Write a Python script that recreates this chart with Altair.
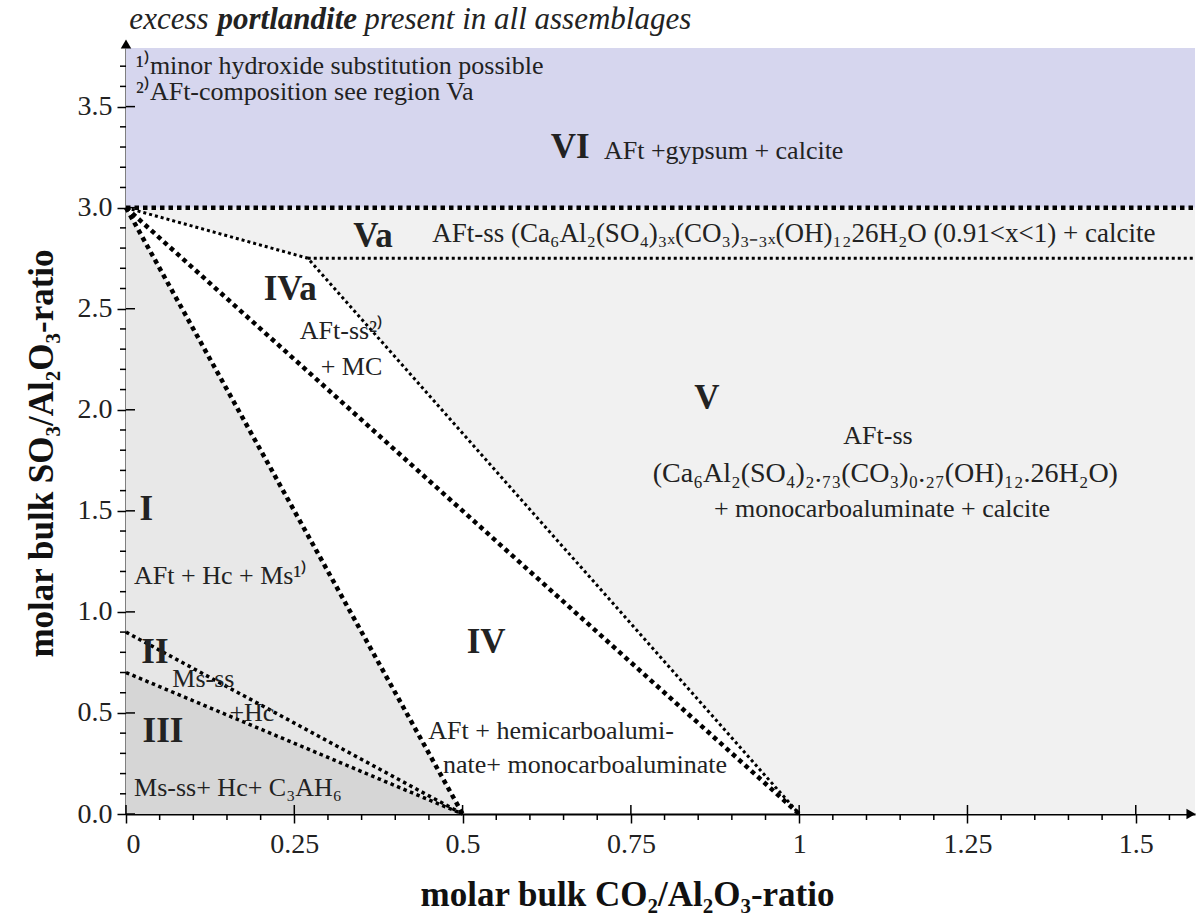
import altair as alt
import pandas as pd

FONT = "Liberation Serif"
XMAX = 1.588
YMAX = 3.79
W, H = 1069, 766

# ---------------- data ----------------
thick_lines = {
    "I-IV": ([0, 0.5], [3.0, 0.0]),
    "IV-IVa": ([0, 1.0], [3.0, 0.0]),
    "VI-Va": ([0, XMAX], [3.0, 3.0]),
}
thin_lines = {
    "IVa-V": ([0, 0.27, 1.0], [3.0, 2.75, 0.0]),
    "Va-V": ([0.27, XMAX], [2.75, 2.75]),
}
mid_lines = {
    "I-II": ([0, 0.5], [0.9, 0.0]),
    "II-III": ([0, 0.5], [0.7, 0.0]),
}

regions = {
    "VI": ([0, XMAX], [YMAX, YMAX], [3.0, 3.0]),
    "V": ([0, 0.27, 1.0, XMAX], [3.0, 3.0, 3.0, 3.0], [3.0, 2.75, 0.0, 0.0]),
    "I": ([0, 0.5], [3.0, 0.0], [0.9, 0.0]),
    "II": ([0, 0.5], [0.9, 0.0], [0.7, 0.0]),
    "III": ([0, 0.5], [0.7, 0.0], [0.0, 0.0]),
}
region_names = ["VI", "V", "I", "II", "III"]
region_colors = ["#d6d6ee", "#f1f1f1", "#e8e8e8", "#e6e6e6", "#d6d6d6"]

num_text = ["VI", "Va", "IVa", "V", "I", "II", "III", "IV"]
num_x = [0.66, 0.367, 0.244, 0.863, 0.03, 0.043, 0.055, 0.535]
num_y = [3.30, 2.86, 2.60, 2.06, 1.51, 0.80, 0.41, 0.85]

ann_text = [
    "AFt +gypsum + calcite",
    "¹⁾minor hydroxide substitution possible",
    "²⁾AFt-composition see region Va",
    "AFt + Hc + Ms¹⁾",
    "Ms-ss+ Hc+ C₃AH₆",
    "AFt + hemicarboalumi-",
    "nate+ monocarboaluminate",
]
ann_x = [0.71, 0.015, 0.015, 0.012, 0.012, 0.449, 0.471]
ann_y = [3.28, 3.70, 3.57, 1.18, 0.13, 0.41, 0.24]

va_text = ["AFt-ss (Ca₆Al₂(SO₄)₃ₓ(CO₃)₃₋₃ₓ(OH)₁₂26H₂O (0.91<x<1) + calcite"]
va_x = [0.455]
va_y = [2.87]

cen_text = [
    "AFt-ss²⁾",
    "+ MC",
    "Ms-ss",
    "+Hc",
    "AFt-ss",
    "+ monocarboaluminate + calcite",
]
cen_x = [0.32, 0.335, 0.115, 0.187, 1.117, 1.123]
cen_y = [2.39, 2.21, 0.67, 0.50, 1.87, 1.51]

formula_text = ["(Ca₆Al₂(SO₄)₂.₇₃(CO₃)₀.₂₇(OH)₁₂.26H₂O)"]
formula_x = [1.128]
formula_y = [1.68]

title_text = ["excess", "portlandite", "present in all assemblages"]
title_x = [0.005, 0.136, 0.354]
title_y = [3.93, 3.93, 3.93]
title_weight = ["normal", "bold", "normal"]

x_major = [0, 0.25, 0.5, 0.75, 1.0, 1.25, 1.5]
x_minor = [0.05, 0.1, 0.15, 0.2, 0.3, 0.35, 0.4, 0.45, 0.55, 0.6, 0.65, 0.7,
           0.8, 0.85, 0.9, 0.95, 1.05, 1.1, 1.15, 1.2, 1.3, 1.35, 1.4, 1.45, 1.55]
y_major = [0, 0.5, 1.0, 1.5, 2.0, 2.5, 3.0, 3.5]
y_minor = [0.1, 0.2, 0.3, 0.4, 0.6, 0.7, 0.8, 0.9, 1.1, 1.2, 1.3, 1.4, 1.6, 1.7,
           1.8, 1.9, 2.1, 2.2, 2.3, 2.4, 2.6, 2.7, 2.8, 2.9, 3.1, 3.2, 3.3, 3.4,
           3.6, 3.7]

# ---------------- tables ----------------
def lines_df(d):
    rows = []
    for k, (xs, ys) in d.items():
        for i, (a, b) in enumerate(zip(xs, ys)):
            rows.append({"id": k, "o": i, "x": a, "y": b})
    return pd.DataFrame(rows)

reg_rows = []
for k, (xs, yu, yl) in regions.items():
    for i in range(len(xs)):
        reg_rows.append({"region": k, "x": xs[i], "y": yu[i], "y2": yl[i]})
reg_df = pd.DataFrame(reg_rows)

xs_scale = alt.Scale(domain=[0, XMAX], nice=False, zero=False)
ys_scale = alt.Scale(domain=[0, YMAX], nice=False, zero=False)

x_axis = alt.Axis(
    values=x_major, format="~g",
    title="molar bulk CO₂/Al₂O₃-ratio",
    labelOverlap=False, tickSize=9,
    labelFontSize=28, labelFont=FONT, labelColor="#222222", labelPadding=7,
    titleFont=FONT, titleFontSize=35, titleFontWeight="bold", titleColor="#111111",
    titleX=501, titleY=80, titleBaseline="middle", titleAnchor="middle",
    domainColor="black", domainWidth=2, tickColor="black", tickWidth=1.5,
    grid=False,
)
y_axis = alt.Axis(
    values=y_major, format=".1f",
    title="molar bulk SO₃/Al₂O₃-ratio",
    labelOverlap=False, tickSize=9,
    labelFontSize=28, labelFont=FONT, labelColor="#222222", labelPadding=5,
    titleFont=FONT, titleFontSize=35, titleFontWeight="bold", titleColor="#111111",
    titleX=-85, titleY=405, titleBaseline="middle", titleAnchor="middle",
    domainColor="black", domainWidth=2, tickColor="black", tickWidth=1.5,
    grid=False,
)

fills = alt.Chart(reg_df).mark_area(opacity=1, interpolate="linear").encode(
    x=alt.X("x:Q", scale=xs_scale, axis=x_axis),
    y=alt.Y("y:Q", scale=ys_scale, axis=y_axis),
    y2="y2:Q",
    color=alt.Color("region:N", scale=alt.Scale(domain=region_names, range=region_colors), legend=None),
)

def line_layer(d, width, dash):
    return alt.Chart(lines_df(d)).mark_line(
        color="black", strokeWidth=width, strokeDash=dash, strokeCap="butt"
    ).encode(
        x=alt.X("x:Q", scale=xs_scale),
        y=alt.Y("y:Q", scale=ys_scale),
        detail="id:N",
        order="o:Q",
    )

l_thick = line_layer(thick_lines, 4.5, [4.5, 4])
l_thin = line_layer(thin_lines, 3, [3, 3])
l_mid = line_layer(mid_lines, 3.5, [3.5, 3.5])

xt_in = alt.Chart(pd.DataFrame({"x": x_major})).mark_rule(color="black", strokeWidth=1.5).encode(
    x=alt.X("x:Q", scale=xs_scale), y=alt.value(H), y2=alt.value(H - 9))
yt_in = alt.Chart(pd.DataFrame({"y": y_major})).mark_rule(color="black", strokeWidth=1.5).encode(
    y=alt.Y("y:Q", scale=ys_scale), x=alt.value(0), x2=alt.value(9))
xt_min = alt.Chart(pd.DataFrame({"x": x_minor})).mark_rule(color="black", strokeWidth=1.5).encode(
    x=alt.X("x:Q", scale=xs_scale), y=alt.value(H), y2=alt.value(H + 6))
yt_min = alt.Chart(pd.DataFrame({"y": y_minor})).mark_rule(color="black", strokeWidth=1.5).encode(
    y=alt.Y("y:Q", scale=ys_scale), x=alt.value(0), x2=alt.value(-6))

arr_y = alt.Chart(pd.DataFrame({"x": [0], "y": [YMAX]})).mark_point(
    shape="triangle-up", filled=True, color="black", size=110, opacity=1, yOffset=-4
).encode(x=alt.X("x:Q", scale=xs_scale), y=alt.Y("y:Q", scale=ys_scale))
arr_x = alt.Chart(pd.DataFrame({"x": [XMAX], "y": [0]})).mark_point(
    shape="triangle-right", filled=True, color="black", size=110, opacity=1, xOffset=-4
).encode(x=alt.X("x:Q", scale=xs_scale), y=alt.Y("y:Q", scale=ys_scale))


def text_layer(df, size, align, style="normal", weight="normal"):
    return alt.Chart(df).mark_text(
        font=FONT, fontSize=size, fontStyle=style, fontWeight=weight,
        color="#222222", align=align, baseline="middle"
    ).encode(x=alt.X("x:Q", scale=xs_scale), y=alt.Y("y:Q", scale=ys_scale), text="t:N")


nums = text_layer(pd.DataFrame({"t": num_text, "x": num_x, "y": num_y}), 35, "center", weight="bold")
anns = text_layer(pd.DataFrame({"t": ann_text, "x": ann_x, "y": ann_y}), 26, "left")
vas = text_layer(pd.DataFrame({"t": va_text, "x": va_x, "y": va_y}), 27, "left")
cens = text_layer(pd.DataFrame({"t": cen_text, "x": cen_x, "y": cen_y}), 26, "center")
form = text_layer(pd.DataFrame({"t": formula_text, "x": formula_x, "y": formula_y}), 28, "center")

tit_df = pd.DataFrame({"t": title_text, "x": title_x, "y": title_y, "w": title_weight})
tit_n = text_layer(tit_df[tit_df.w == "normal"], 31, "left", style="italic")
tit_b = text_layer(tit_df[tit_df.w == "bold"], 31, "left", style="italic", weight="bold")

chart = alt.layer(
    fills, l_mid, l_thin, l_thick, xt_in, yt_in, xt_min, yt_min, arr_y, arr_x,
    nums, anns, vas, cens, form, tit_n, tit_b
).properties(
    width=W, height=H,
    autosize=alt.AutoSizeParams(type="none"),
    padding={"left": 126, "top": 48, "right": 2, "bottom": 106},
    background="white",
).configure_view(stroke=None)

chart.save("out.html", embed_options={"renderer": "svg", "actions": False})
